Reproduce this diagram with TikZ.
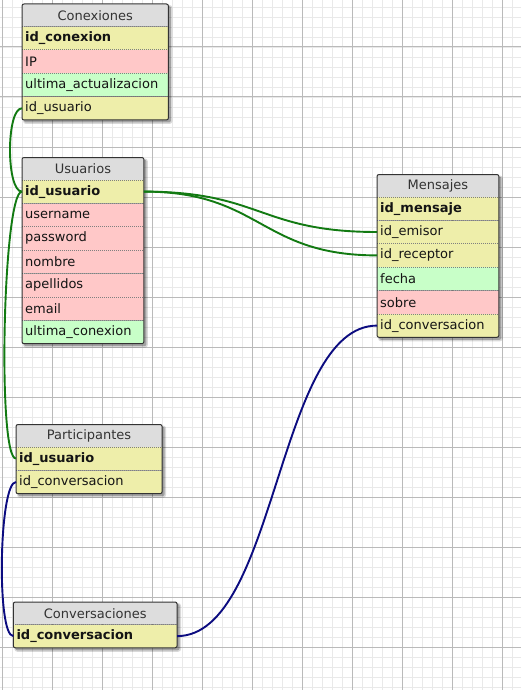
\documentclass[tikz,border=0pt]{standalone}
\usepackage{fontspec}
\setmainfont{DejaVu Sans}
\usetikzlibrary{calc}

\definecolor{numc}{RGB}{238,238,170}
\definecolor{strc}{RGB}{255,200,200}
\definecolor{datec}{RGB}{200,255,200}
\definecolor{hdrc}{RGB}{221,221,221}
\definecolor{gridmin}{RGB}{233,233,233}
\definecolor{gridmaj}{RGB}{186,186,186}
\definecolor{relgreen}{RGB}{18,122,18}
\definecolor{relblue}{RGB}{12,12,128}

\pgfdeclarelayer{gridlayer}
\pgfdeclarelayer{shade}
\pgfsetlayers{gridlayer,shade,main}

\tikzset{
  every node/.style={font=\fontsize{13}{15}\selectfont},
  hdr/.style={anchor=north west, fill=hdrc, text=black!80, inner sep=0pt, minimum height=22},
  fld/.style={anchor=north west, inner xsep=3pt, inner ysep=0pt, minimum height=23, align=left, text=black!92},
  sepline/.style={draw=black!50, line width=0.8pt, dash pattern=on 1pt off 1pt},
  frame/.style={draw=black!80, line width=1pt, rounded corners=2pt},
  gminor/.style={draw=gridmin, line width=0.9pt},
  gmajor/.style={draw=gridmaj, line width=1pt},
  fkgreen/.style={draw=relgreen, line width=1.9pt},
  fkblue/.style={draw=relblue, line width=1.9pt},
}

% table title: id, x, y, width, title
\newcommand\dbtable[5]{%
  \node[hdr, minimum width=#4] (#1) at (#2,#3) {#5};
}
% table field: id, node above, width, colour, text
\newcommand\dbfield[5]{%
  \pgfmathsetmacro\fieldtw{#3-6}%
  \node[fld, fill=#4, text width=\fieldtw pt] (#1) at (#2.south west) {#5};
  \draw[sepline] (#1.north west) -- (#1.north east);
}
% outline and drop shadow: first node, last node
\newcommand\dbframe[2]{%
  \begin{pgfonlayer}{shade}
    \fill[black, opacity=.15, rounded corners=3pt] ($(#1.north west)+(1,1)$) rectangle ($(#2.south east)+(4,4)$);
    \fill[black, opacity=.25, rounded corners=2pt] ($(#1.north west)+(2,2)$) rectangle ($(#2.south east)+(2.5,2.5)$);
  \end{pgfonlayer}
  \draw[frame] (#1.north west) rectangle (#2.south east);
}

\begin{document}
\begin{tikzpicture}[x=1pt,y=-1pt]
\useasboundingbox (0,0) rectangle (521,690);

% squared paper
\begin{pgfonlayer}{gridlayer}
  \fill[white] (0,0) rectangle (521,690);
  \foreach \x in {2,12,...,512} \draw[gminor] (\x,0) -- (\x,690);
  \foreach \y in {7,17,...,687} \draw[gminor] (0,\y) -- (521,\y);
  \foreach \x in {2,52,...,502} \draw[gmajor] (\x,0) -- (\x,690);
  \foreach \y in {47,97,...,647} \draw[gmajor] (0,\y) -- (521,\y);
\end{pgfonlayer}

% Conexiones
\dbtable{con}{22}{4}{146}{Conexiones}
\dbfield{con-id}{con}{146}{numc}{\textbf{id\_conexion}}
\dbfield{con-ip}{con-id}{146}{strc}{IP}
\dbfield{con-ua}{con-ip}{146}{datec}{ultima\_actualizacion}
\dbfield{con-usr}{con-ua}{146}{numc}{id\_usuario}
\dbframe{con}{con-usr}

% Usuarios
\dbtable{usu}{22}{157.5}{121.5}{Usuarios}
\dbfield{usu-id}{usu}{121.5}{numc}{\textbf{id\_usuario}}
\dbfield{usu-un}{usu-id}{121.5}{strc}{username}
\dbfield{usu-pw}{usu-un}{121.5}{strc}{password}
\dbfield{usu-nom}{usu-pw}{121.5}{strc}{nombre}
\dbfield{usu-ape}{usu-nom}{121.5}{strc}{apellidos}
\dbfield{usu-em}{usu-ape}{121.5}{strc}{email}
\dbfield{usu-uc}{usu-em}{121.5}{datec}{ultima\_conexion}
\dbframe{usu}{usu-uc}

% Mensajes
\dbtable{men}{377}{174.5}{121.5}{Mensajes}
\dbfield{men-id}{men}{121.5}{numc}{\textbf{id\_mensaje}}
\dbfield{men-emi}{men-id}{121.5}{numc}{id\_emisor}
\dbfield{men-rec}{men-emi}{121.5}{numc}{id\_receptor}
\dbfield{men-fe}{men-rec}{121.5}{datec}{fecha}
\dbfield{men-so}{men-fe}{121.5}{strc}{sobre}
\dbfield{men-conv}{men-so}{121.5}{numc}{id\_conversacion}
\dbframe{men}{men-conv}

% Participantes
\dbtable{par}{16}{424.5}{145.7}{Participantes}
\dbfield{par-usr}{par}{145.7}{numc}{\textbf{id\_usuario}}
\dbfield{par-conv}{par-usr}{145.7}{numc}{id\_conversacion}
\dbframe{par}{par-conv}

% Conversaciones
\dbtable{cnv}{13.3}{602}{163.4}{Conversaciones}
\dbfield{cnv-id}{cnv}{163.4}{numc}{\textbf{id\_conversacion}}
\dbframe{cnv}{cnv-id}

% relations
\draw[fkgreen] (con-usr.west) .. controls +(-16,0) and +(-16,0) .. (usu-id.west);
\draw[fkgreen] (usu-id.west) .. controls +(-19,0) and +(-19,0) .. (par-usr.west);
\draw[fkgreen] (usu-id.east) .. controls +(117,0) and +(-117,0) .. (men-emi.west);
\draw[fkgreen] (usu-id.east) .. controls +(117,0) and +(-117,0) .. (men-rec.west);
\draw[fkblue] (par-conv.west) .. controls +(-17,0) and +(-17,0) .. (cnv-id.west);
\draw[fkblue] (cnv-id.east) .. controls +(100,0) and +(-100,0) .. (men-conv.west);
\end{tikzpicture}
\end{document}
